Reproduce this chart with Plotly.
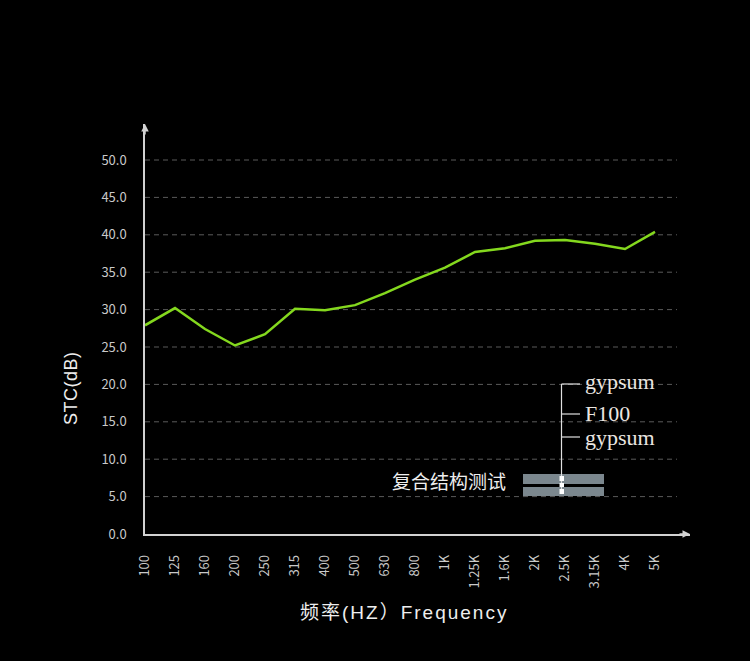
import plotly.graph_objects as go

# ---- data ----
categories = ["100", "125", "160", "200", "250", "315", "400", "500", "630", "800",
              "1K", "1.25K", "1.6K", "2K", "2.5K", "3.15K", "4K", "5K"]
stc_values = [27.9, 30.2, 27.4, 25.2, 26.7, 30.1, 29.9, 30.6, 32.2, 34.0,
              35.6, 37.7, 38.2, 39.2, 39.3, 38.8, 38.1, 40.4]
y_ticks = [0, 5, 10, 15, 20, 25, 30, 35, 40, 45, 50]
y_ticktext = [f"{v:.1f}" for v in y_ticks]
layer_labels = ["gypsum", "F100", "gypsum"]
inset_label = "复合结构测试"
y_title = "STC(dB)"
x_title = "频率(HZ）Frequency"

# ---- geometry ----
W, H = 750, 661
ML, MR, MT, MB = 145, 60, 124, 127
PW, PH = W - ML - MR, H - MT - MB
STEP = 30.0       # px per category
YPX = 7.48        # px per dB
XMAX = PW / STEP
YMAX = PH / YPX


def px2x(px):
    return (px - ML) / STEP


def pxp(px):
    return (px - ML) / PW


def pyp(py):
    return (H - MB - py) / PH


AXIS_COL = "#d2d2d2"
TICK_COL = "#c9c9c9"
GRID_COL = "#5a5a5a"
LINE_COL = "#84d81e"
CJK = "Noto Sans CJK SC, Noto Sans, sans-serif"
SANS = "Liberation Sans, Arial, Noto Sans CJK SC, sans-serif"

fig = go.Figure()
fig.add_trace(go.Scatter(
    x=list(range(len(categories))), y=stc_values, mode="lines",
    line=dict(color=LINE_COL, width=2.5), hoverinfo="skip", showlegend=False,
))

shapes = []
# dashed grid lines
for v in y_ticks[1:]:
    shapes.append(dict(type="line", xref="x", yref="y", x0=0, x1=px2x(677), y0=v, y1=v,
                       line=dict(color=GRID_COL, width=1, dash="5px,4px"), layer="below"))

# inset decoration: bars
BAR_COL = "#7b878e"
shapes.append(dict(type="rect", xref="paper", yref="paper", x0=pxp(523), x1=pxp(604),
                   y0=pyp(484), y1=pyp(474), fillcolor=BAR_COL, line=dict(width=0)))
shapes.append(dict(type="rect", xref="paper", yref="paper", x0=pxp(523), x1=pxp(604),
                   y0=pyp(496), y1=pyp(487), fillcolor=BAR_COL, line=dict(width=0)))
# bracket
BR_COL = "#e0e0e0"
shapes.append(dict(type="line", xref="paper", yref="paper", x0=pxp(561.5), x1=pxp(561.5),
                   y0=pyp(384), y1=pyp(492), line=dict(color=BR_COL, width=1.2)))
for yy in (384, 414, 437):
    shapes.append(dict(type="line", xref="paper", yref="paper", x0=pxp(561.5), x1=pxp(580),
                       y0=pyp(yy), y1=pyp(yy), line=dict(color=BR_COL, width=1.2)))
for (a, b) in ((476, 481), (483, 487), (489, 494)):
    shapes.append(dict(type="rect", xref="paper", yref="paper", x0=pxp(559.5), x1=pxp(564),
                       y0=pyp(b), y1=pyp(a), fillcolor="#ffffff", line=dict(width=0)))

annotations = []
# axis arrowheads
annotations.append(dict(x=XMAX, y=0, xref="x", yref="y", ax=-12, ay=0, text="",
                        showarrow=True, arrowhead=2, arrowsize=1, arrowwidth=1.5,
                        arrowcolor=AXIS_COL))
annotations.append(dict(x=0, y=YMAX, xref="x", yref="y", ax=0, ay=12, text="",
                        showarrow=True, arrowhead=2, arrowsize=1, arrowwidth=1.5,
                        arrowcolor=AXIS_COL))
# axis titles
annotations.append(dict(x=pxp(71), y=pyp(388), xref="paper", yref="paper",
                        text=f'<span style="letter-spacing:0.5px">{y_title}</span>',
                        showarrow=False, textangle=-90, xanchor="center", yanchor="middle",
                        font=dict(family=SANS, size=18, color="#eeeeee")))
annotations.append(dict(x=pxp(404), y=pyp(612), xref="paper", yref="paper",
                        text=f'<span style="letter-spacing:2px">{x_title}</span>',
                        showarrow=False, xanchor="center", yanchor="middle",
                        font=dict(family=SANS, size=19, color="#eeeeee")))
# inset labels
for lab, yy in zip(layer_labels, (381, 413, 437)):
    annotations.append(dict(x=pxp(583), y=pyp(yy), xref="paper", yref="paper", text=lab,
                            showarrow=False, xanchor="left", yanchor="middle",
                            font=dict(family="Liberation Serif, Times New Roman, serif",
                                      size=22, color="#ebe6e1")))
annotations.append(dict(x=pxp(390), y=pyp(480), xref="paper", yref="paper", text=inset_label,
                        showarrow=False, xanchor="left", yanchor="middle",
                        font=dict(family=CJK, size=19, color="#eeeeee")))

fig.update_layout(
    width=W, height=H,
    margin=dict(l=ML, r=MR, t=MT, b=MB, pad=0),
    paper_bgcolor="#000000", plot_bgcolor="#000000",
    showlegend=False,
    shapes=shapes, annotations=annotations,
    xaxis=dict(
        range=[0, XMAX], tickmode="array",
        tickvals=list(range(len(categories))), ticktext=categories,
        tickangle=-90, showgrid=False, zeroline=False,
        showline=True, linecolor=AXIS_COL, linewidth=1.5,
        ticks="", ticklabelstandoff=14,
        tickfont=dict(family=CJK, size=13, color=TICK_COL),
        fixedrange=True,
    ),
    yaxis=dict(
        range=[0, YMAX], tickmode="array", tickvals=y_ticks, ticktext=y_ticktext,
        showgrid=False, zeroline=False,
        showline=True, linecolor=AXIS_COL, linewidth=1.5,
        ticks="", ticklabelstandoff=14,
        tickfont=dict(family=CJK, size=13, color=TICK_COL),
        fixedrange=True,
    ),
)

fig.write_html("out.html")
